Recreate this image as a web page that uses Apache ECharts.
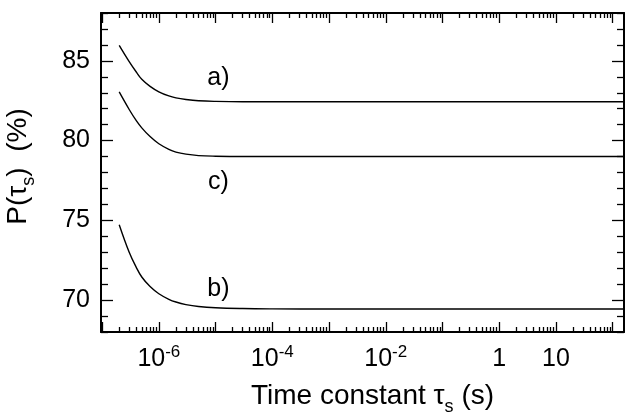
<!DOCTYPE html>
<html>
<head>
<meta charset="utf-8">
<script src="https://cdn.jsdelivr.net/npm/echarts@6.0.0/dist/echarts.min.js"></script>
<style>
  html, body { margin: 0; padding: 0; background: #fff; }
  #chart { width: 626px; height: 419px; }
</style>
</head>
<body>
<div id="chart"></div>
<script>
// time constants (s)
const tauVals = [2e-7, 3e-7, 4e-7, 5e-7, 7e-7, 1e-6, 1.5e-6, 2e-6, 3e-6, 5e-6, 1e-5, 3e-5, 1e-4, 1e-3, 1e-2, 1e-1, 1, 10, 100, 160];
// P(tau_s) in %
const curveA = [85.97, 84.95, 84.3, 83.85, 83.4, 83.06, 82.8, 82.68, 82.58, 82.5, 82.46, 82.44, 82.44, 82.44, 82.44, 82.44, 82.44, 82.44, 82.44, 82.44];
const curveC = [83.05, 81.95, 81.25, 80.8, 80.25, 79.8, 79.45, 79.28, 79.15, 79.06, 79.02, 79.0, 79.0, 79.0, 79.0, 79.0, 79.0, 79.0, 79.0, 79.0];
const curveB = [74.73, 73.0, 72.05, 71.45, 70.85, 70.4, 70.05, 69.88, 69.72, 69.6, 69.52, 69.47, 69.45, 69.44, 69.44, 69.44, 69.44, 69.44, 69.44, 69.44];
// curve tags: [tau, P, text]
const tags = [[1.12e-5, 83.9, 'a)'], [1.12e-5, 77.4, 'c)'], [1.12e-5, 70.7, 'b)']];
// tick labels
const xLabelExp = [-6, -4, -2, 0, 1];
const yLabels = [70, 75, 80, 85];

const X_MIN = -7.02, X_MAX = 2.2, Y_MIN = 68, Y_MAX = 88;
const FONT = 'Liberation Sans, Arial, Helvetica, sans-serif';

const decades = [];
const minorX = [];
for (let n = -8; n <= 2; n++) {
  if (n >= X_MIN && n <= X_MAX) decades.push(n);
  for (let k = 2; k <= 9; k++) {
    const v = n + Math.log10(k);
    if (v > X_MIN && v < X_MAX) minorX.push(v);
  }
}
const minorY = [];
for (let v = Y_MIN; v <= Y_MAX; v++) {
  if (yLabels.indexOf(v) < 0) minorY.push(v);
}

function toPts(vals) {
  return tauVals.map((t, i) => [Math.log10(t), vals[i]]);
}

function axLine(show) {
  return { show: show, onZero: false, lineStyle: { color: '#000', width: 2 } };
}

function xAx(pos, ticks, len, showLine, withLabels) {
  const ax = {
    type: 'value', position: pos, min: X_MIN, max: X_MAX,
    axisLine: axLine(showLine),
    axisTick: { show: true, inside: true, length: len, customValues: ticks, lineStyle: { color: '#000', width: 1.3 } },
    splitLine: { show: false },
    axisLabel: { show: false }
  };
  if (withLabels) {
    ax.axisLabel = {
      show: true, margin: 12, customValues: xLabelExp,
      formatter: function (v) {
        if (v === 0) return '{b|1}';
        if (v === 1) return '{b|10}';
        return '{b|10}{p|' + v + '}';
      },
      rich: {
        b: { fontSize: 25, fontFamily: FONT, color: '#000', lineHeight: 30 },
        p: { fontSize: 17, fontFamily: FONT, color: '#000', lineHeight: 17, verticalAlign: 'top' }
      }
    };
    ax.name = 'Time constant τ{s|s} (s)';
    ax.nameLocation = 'middle';
    ax.nameGap = 34;
    ax.nameTextStyle = {
      fontSize: 28, fontFamily: FONT, color: '#000', lineHeight: 40, padding: [0, 0, 0, 20],
      rich: { s: { fontSize: 18, fontFamily: FONT, color: '#000', lineHeight: 18, verticalAlign: 'bottom' } }
    };
  }
  return ax;
}

function yAx(pos, ticks, len, showLine, withLabels) {
  const ax = {
    type: 'value', position: pos, min: Y_MIN, max: Y_MAX,
    axisLine: axLine(showLine),
    axisTick: { show: true, inside: true, length: len, customValues: ticks, lineStyle: { color: '#000', width: 1.3 } },
    splitLine: { show: false },
    axisLabel: { show: false }
  };
  if (withLabels) {
    ax.axisLabel = { show: true, margin: 11, customValues: yLabels, fontSize: 25, fontFamily: FONT, color: '#000' };
    ax.name = 'P(τ{s|s})  (%)';
    ax.nameLocation = 'middle';
    ax.nameRotate = 90;
    ax.nameGap = 63;
    ax.nameTextStyle = {
      fontSize: 28, fontFamily: FONT, color: '#000', lineHeight: 40, padding: [0, 0, 0, 12],
      rich: { s: { fontSize: 18, fontFamily: FONT, color: '#000', lineHeight: 18, verticalAlign: 'bottom' } }
    };
  }
  return ax;
}

const chart = echarts.init(document.getElementById('chart'), null, { renderer: 'canvas' });

function curve(name, vals) {
  return {
    name: name, type: 'line', xAxisIndex: 0, yAxisIndex: 0,
    data: toPts(vals), smooth: 0.4, showSymbol: false, symbol: 'none',
    lineStyle: { color: '#000', width: 1.4 }, silent: true
  };
}

chart.setOption({
  animation: false,
  backgroundColor: '#fff',
  grid: { left: 101, right: 2, top: 13, bottom: 87, containLabel: false, outerBoundsMode: 'none' },
  xAxis: [
    xAx('bottom', decades, 10, true, true),
    xAx('bottom', minorX, 5, false, false),
    xAx('top', decades, 10, true, false),
    xAx('top', minorX, 5, false, false)
  ],
  yAxis: [
    yAx('left', yLabels, 12, true, true),
    yAx('left', minorY, 7, false, false),
    yAx('right', yLabels, 12, true, false),
    yAx('right', minorY, 7, false, false)
  ],
  series: [
    curve('a', curveA),
    curve('c', curveC),
    curve('b', curveB),
    {
      type: 'scatter', xAxisIndex: 0, yAxisIndex: 0, symbolSize: 0, silent: true,
      itemStyle: { color: '#000', opacity: 1 },
      data: tags.map(t => [Math.log10(t[0]), t[1], t[2]]),
      label: {
        show: true, position: 'inside', formatter: p => p.data[2],
        fontSize: 25, fontFamily: FONT, color: '#000', textBorderWidth: 0
      }
    }
  ]
});
</script>
</body>
</html>
